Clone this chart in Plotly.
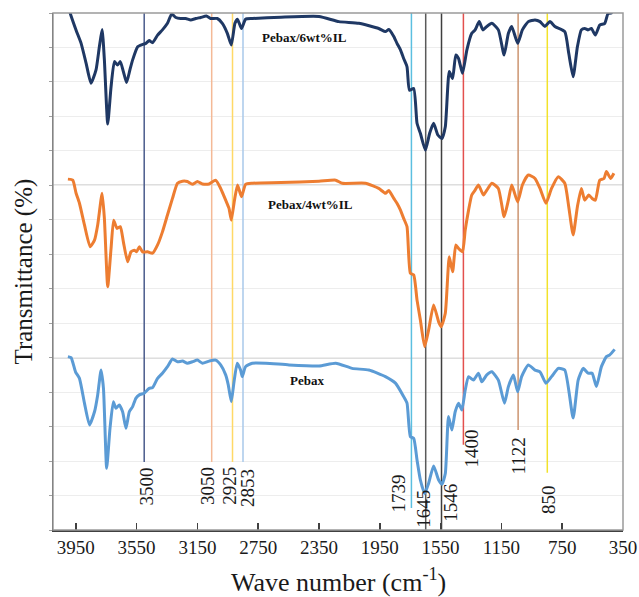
import plotly.graph_objects as go

# ---------------- data ----------------
w_pebax = [4002, 3981, 3952, 3926, 3893, 3860, 3827, 3806, 3784, 3768, 3747, 3725, 3703, 3686, 3664, 3642, 3620, 3598, 3576, 3555,
           3532, 3500, 3467, 3445, 3412, 3380, 3347, 3314, 3281, 3248, 3216, 3183, 3150, 3117, 3073, 3030, 2997, 2964, 2947, 2927,
           2909, 2888, 2866, 2855, 2833, 2789, 2700, 2547, 2350, 2240, 2132, 2022, 1913, 1847, 1793, 1771, 1749, 1727, 1705, 1683,
           1655, 1629, 1596, 1563, 1541, 1519, 1498, 1476, 1454, 1432, 1410, 1388, 1366, 1334, 1301, 1279, 1246, 1213, 1170, 1130,
           1104, 1071, 1043, 1017, 973, 929, 896, 857, 820, 776, 733, 678, 645, 612, 580, 553, 525, 492, 459, 437, 405]
t_pebax = [5.03, 5.0, 4.59, 4.40, 3.68, 3.05, 3.43, 3.92, 4.64, 4.11, 1.79, 2.95, 3.72, 3.53, 3.63, 3.43, 2.95, 3.43, 3.58, 3.82,
           3.92, 3.97, 4.11, 4.13, 4.40, 4.55, 4.74, 4.96, 4.88, 4.90, 4.84, 4.88, 4.93, 4.84, 4.90, 4.93, 4.79, 4.50, 4.21, 3.72,
           4.30, 4.84, 4.64, 4.45, 4.74, 4.84, 4.84, 4.79, 4.76, 4.84, 4.69, 4.64, 4.45, 4.26, 3.87, 3.68, 2.71, 2.66, 2.03, 1.45,
           1.06, 1.35, 1.86, 1.45, 1.33, 1.64, 3.29, 2.90, 3.43, 3.68, 3.48, 4.06, 4.45, 4.35, 4.55, 4.30, 4.50, 4.59, 4.35, 3.68,
           4.16, 4.50, 4.01, 4.45, 4.79, 4.64, 4.59, 4.26, 4.45, 4.69, 4.64, 3.25, 4.35, 4.69, 4.55, 4.55, 4.16, 4.74, 5.03, 5.08, 5.24]

w_il4 = [4002, 3970, 3948, 3926, 3893, 3856, 3827, 3806, 3777, 3762, 3740, 3718, 3701, 3679, 3657, 3637, 3609, 3587, 3565, 3550,
         3532, 3511, 3478, 3445, 3412, 3380, 3347, 3314, 3281, 3248, 3216, 3183, 3150, 3117, 3073, 3030, 2997, 2964, 2942, 2927,
         2906, 2886, 2860, 2833, 2789, 2600, 2350, 2240, 2197, 2044, 1957, 1913, 1891, 1858, 1837, 1814, 1793, 1771, 1749, 1727,
         1705, 1683, 1655, 1629, 1596, 1563, 1546, 1519, 1493, 1471, 1450, 1432, 1406, 1388, 1366, 1345, 1323, 1301, 1268, 1246,
         1213, 1170, 1132, 1104, 1082, 1043, 1012, 973, 929, 896, 857, 820, 776, 733, 707, 678, 650, 624, 602, 575,
         553, 532, 503, 475, 459, 431, 410]
t_il4 = [10.18, 10.15, 9.77, 9.48, 8.85, 8.22, 8.41, 8.85, 9.77, 9.04, 7.06, 8.17, 8.99, 8.75, 8.80, 8.36, 7.78, 8.07, 8.12, 8.07,
         8.22, 8.07, 8.07, 8.03, 8.27, 8.65, 9.14, 9.62, 10.06, 10.12, 10.11, 10.03, 10.11, 10.04, 10.04, 10.15, 9.91, 9.57, 9.33, 8.99,
         9.57, 10.01, 9.67, 10.03, 10.06, 10.08, 10.12, 10.15, 10.06, 10.06, 9.91, 9.77, 9.85, 9.62, 9.48, 9.28, 9.04, 8.80, 7.45, 7.40,
         6.67, 6.09, 5.32, 5.80, 6.53, 6.04, 5.90, 6.29, 7.93, 7.49, 8.27, 8.17, 8.07, 8.70, 9.28, 9.72, 9.86, 10.01, 9.72, 9.86,
         10.06, 9.91, 9.09, 9.57, 10.01, 9.52, 10.01, 10.30, 10.20, 9.91, 9.48, 9.91, 10.25, 10.06, 9.38, 8.56, 9.38, 9.91, 9.57, 9.72,
         9.62, 9.57, 10.15, 10.20, 10.40, 10.20, 10.35]

w_il6 = [4010, 3990, 3948, 3915, 3882, 3850, 3817, 3795, 3777, 3762, 3740, 3718, 3696, 3675, 3657, 3637, 3616, 3594, 3576, 3543,
         3522, 3489, 3467, 3445, 3412, 3380, 3347, 3319, 3292, 3260, 3227, 3194, 3161, 3128, 3091, 3063, 3019, 2986, 2953, 2927,
         2903, 2886, 2860, 2833, 2789, 2600, 2350, 2219, 2088, 1957, 1913, 1891, 1858, 1837, 1814, 1793, 1771, 1755, 1727, 1705,
         1683, 1650, 1622, 1596, 1568, 1541, 1519, 1493, 1471, 1450, 1432, 1406, 1377, 1345, 1323, 1296, 1272, 1246, 1213, 1170,
         1132, 1104, 1082, 1043, 1012, 973, 929, 896, 864, 831, 798, 733, 707, 678, 650, 624, 602, 580, 558, 532,
         503, 470, 448, 427, 400]
t_il6 = [15.5, 15.04, 14.5, 14.12, 13.54, 12.96, 13.35, 14.02, 14.52, 13.64, 11.78, 12.86, 13.59, 13.49, 13.59, 13.30, 12.98, 13.35, 13.64, 14.02,
         14.07, 14.12, 14.20, 14.14, 14.36, 14.51, 14.70, 14.97, 14.87, 14.84, 14.84, 14.80, 14.84, 14.87, 14.91, 14.84, 14.84, 14.70, 14.41, 14.07,
         14.70, 14.82, 14.55, 14.82, 14.84, 14.88, 14.90, 14.75, 14.70, 14.55, 14.46, 14.52, 14.32, 14.12, 13.93, 13.68, 13.44, 12.76, 12.81, 11.80,
         11.51, 11.02, 11.51, 11.80, 11.46, 11.36, 11.70, 13.30, 13.10, 13.78, 13.68, 13.25, 13.93, 14.41, 14.51, 14.75, 14.51, 14.61, 14.70, 14.51,
         13.78, 14.41, 14.61, 14.12, 14.51, 14.75, 14.80, 14.75, 14.61, 14.75, 14.61, 14.46, 13.83, 13.15, 14.02, 14.51, 14.55, 14.51, 14.55, 14.36,
         14.65, 14.70, 14.99, 15.0, 15.3]

series_names = ["Pebax", "Pebax/4wt%IL", "Pebax/6wt%IL"]

# marker lines: label, drawn position, lower end of the line
peak_labels = ["3500", "3050", "2925", "2853", "1739", "1645", "1546", "1400", "1122", "850"]
peak_pos = [3500, 3056, 2919, 2850, 1742, 1648, 1544, 1400, 1040, 848]
peak_line_bottom = [1.97, 1.97, 1.97, 1.97, 0.64, 0.0, 0.0, 2.47, 2.90, 1.66]
peak_label_top = [1.85, 1.85, 1.85, 1.80, 1.65, 1.19, 1.36, 2.96, 2.70, 1.33]

x_ticks = [3950, 3550, 3150, 2750, 2350, 1950, 1550, 1150, 750, 350]

# ---------------- styles ----------------
peak_colors = ["#4A5B8C", "#F4B996", "#FFD966", "#A9C8EA", "#5BBFE0", "#5A5A5A", "#3F3F3F", "#E3504E", "#CC9470", "#F2E22A"]
label_xshift = [2, -4, -3, 5, -13, -2, 9, 9, 0, 1]
serif = "Liberation Serif, Times New Roman, serif"

fig = go.Figure()

for lab, pos, yb, col in zip(peak_labels, peak_pos, peak_line_bottom, peak_colors):
    fig.add_trace(go.Scatter(x=[pos, pos], y=[yb, 15], mode="lines",
                             line=dict(color=col, width=1.5), hoverinfo="skip", showlegend=False))

curve_colors = ["#5B9BD5", "#ED7D31", "#1F3864"]
for name, xs, ys, col in zip(series_names, [w_pebax, w_il4, w_il6], [t_pebax, t_il4, t_il6], curve_colors):
    fig.add_trace(go.Scatter(x=xs, y=ys, mode="lines", name=name,
                             line=dict(color=col, width=3, shape="spline", smoothing=0.5),
                             showlegend=False))

annotations = []
for lab, pos, yt, xs in zip(peak_labels, peak_pos, peak_label_top, label_xshift):
    annotations.append(dict(x=pos, y=yt, xref="x", yref="y", text=lab, showarrow=False,
                            textangle=-90, xanchor="center", yanchor="top", xshift=xs,
                            font=dict(family=serif, size=19, color="#1a1a1a"), borderpad=0))

series_label_x = [2432, 2409, 2445]
series_label_y = [4.35, 9.43, 14.3]
for name, lx, ly in zip(series_names, series_label_x, series_label_y):
    annotations.append(dict(x=lx, y=ly, xref="x", yref="y", text="<b>%s</b>" % name, showarrow=False,
                            font=dict(family=serif, size=13, color="#111111")))

annotations.append(dict(x=0.5, y=0, xref="paper", yref="paper", text="Wave number (cm<sup>-1</sup>)",
                        showarrow=False, yanchor="middle", yshift=-50,
                        font=dict(family=serif, size=26, color="#1a1a1a")))
annotations.append(dict(x=0, y=0.5, xref="paper", yref="paper", text="Transmittance (%)",
                        showarrow=False, textangle=-90, xanchor="center", xshift=-30,
                        font=dict(family=serif, size=25, color="#1a1a1a")))

shapes = []
for yv in [5, 10]:
    shapes.append(dict(type="line", xref="paper", yref="y", x0=0, x1=1, y0=yv, y1=yv,
                       line=dict(color="#BDBDBD", width=1.5), layer="below"))
shapes.append(dict(type="rect", xref="paper", yref="paper", x0=0, x1=1, y0=0, y1=1,
                   line=dict(color="#9A9A9A", width=1.5), layer="above"))

fig.update_layout(
    width=639, height=597, autosize=False,
    margin=dict(l=53, r=16, t=13, b=67, autoexpand=False),
    paper_bgcolor="white", plot_bgcolor="white",
    showlegend=False,
    annotations=annotations,
    shapes=shapes,
    xaxis=dict(range=[4100, 350], tickvals=x_ticks, ticktext=[str(v) for v in x_ticks],
               automargin=False,
               ticks="inside", ticklen=7, tickwidth=1.5, tickcolor="#404040",
               showline=True, linecolor="#404040", linewidth=1.5, showgrid=False, zeroline=False,
               tickfont=dict(family=serif, size=19, color="#1a1a1a")),
    yaxis=dict(range=[0, 15], dtick=1, showticklabels=False, ticks="outside", ticklen=3,
               automargin=False,
               tickcolor="#A0A0A0", showline=True, linecolor="#404040", linewidth=1.5,
               showgrid=True, gridcolor="#EDEDED", gridwidth=1, zeroline=False),
)

# remove the default page margin, then redraw at the full window size
fig.write_html("out.html",
               config={"responsive": False, "displayModeBar": False, "staticPlot": True},
               post_script="document.body.style.margin='0px';"
                           "document.body.style.overflow='hidden';"
                           "document.documentElement.style.overflow='hidden';"
                           "var gd=document.getElementById('{plot_id}');"
                           "gd.style.width='639px';gd.style.height='597px';"
                           "Plotly.relayout(gd,{width:639,height:597});")
